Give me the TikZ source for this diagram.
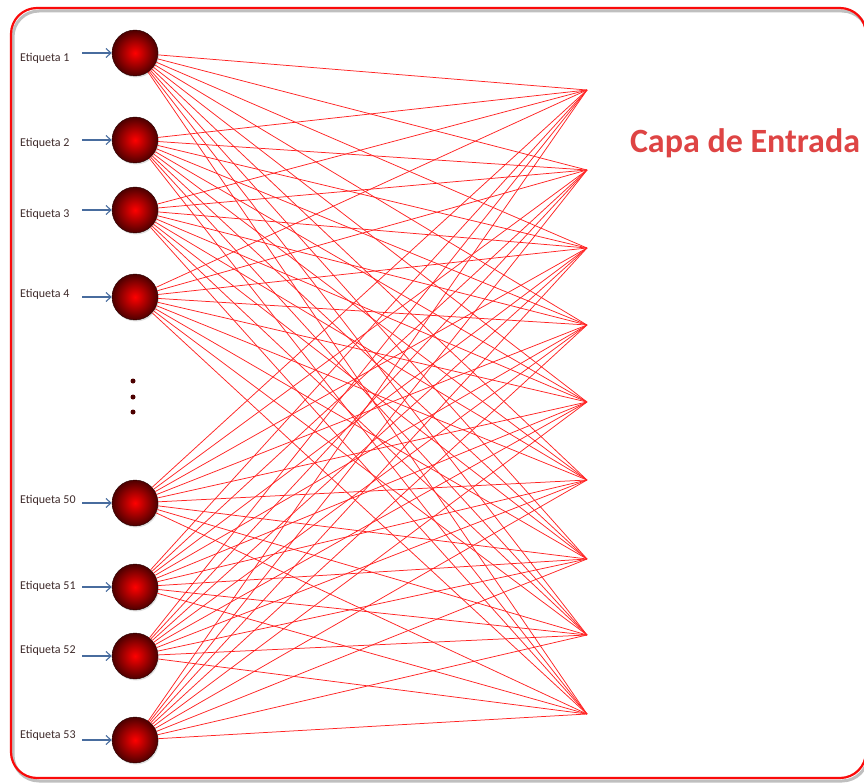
\documentclass[tikz,border=0pt]{standalone}
\usepackage{fontspec}
\setmainfont{Carlito}
\usetikzlibrary{%
  arrows.meta,%
  shadows%
}
\definecolor{linkred}{RGB}{255,35,35}
\definecolor{framered}{RGB}{250,10,10}
\definecolor{titlered}{RGB}{222,68,68}
\definecolor{arrowblue}{RGB}{72,108,158}
\definecolor{labeltext}{RGB}{62,42,42}
\tikzset{>=latex,%
  neuron/.style={circle,minimum size=46pt,inner sep=0pt,
    draw=red!15!black,line width=0.4pt,
    inner color=red,outer color=red!30!black,
    drop shadow={opacity=0.25,shadow xshift=1pt,shadow yshift=-1.5pt}},
  link/.style={linkred,line width=0.75pt},
  inarrow/.style={arrowblue,line width=1.1pt,
    -{Straight Barb[length=5pt,width=9pt]}},
  etiq/.style={anchor=west,inner sep=0pt,
    font=\fontsize{12}{14}\selectfont,text=labeltext},
  titulo/.style={font=\fontsize{34}{40}\selectfont\bfseries,inner sep=0pt}}

\begin{document}
\begin{tikzpicture}[x=1pt,y=-1pt]
  \useasboundingbox (0,0) rectangle (864,783);
  % marco
  \draw[black!25,line width=3pt,rounded corners=26pt] (13,11) rectangle (868,781);
  \draw[framered,line width=2.2pt,rounded corners=26pt] (11,8) rectangle (866,778);
  % neuronas de entrada
  \foreach \ny/\num/\ly [count=\i] in {53/1/58,140/2/143,210/3/214,297/4/294,%
      503/50/500,587/51/586,656/52/650,740/53/735}{
    \node[neuron] (n\i) at (135,\ny) {};
    \node[etiq] (e\i) at (20,\ly) {Etiqueta \num};
    \coordinate (a\i) at (82,\ny);
    \draw[inarrow] (a\i) -- (n\i);
  }
  % destinos
  \foreach \ty [count=\j] in {90,170,248,325,402,480,559,635,714}
    \coordinate (t\j) at (587,\ty);
  \foreach \i in {1,...,8}
    \foreach \j in {1,...,9}
      \draw[link] (n\i) -- (t\j);
  % puntos suspensivos
  \foreach \dy in {381,397,412}
    \fill[red!30!black] (133,\dy) circle (2.5pt);
  \node[titulo,text=titlered] (titulo) at (745,143) {Capa de Entrada};
\end{tikzpicture}
\end{document}
